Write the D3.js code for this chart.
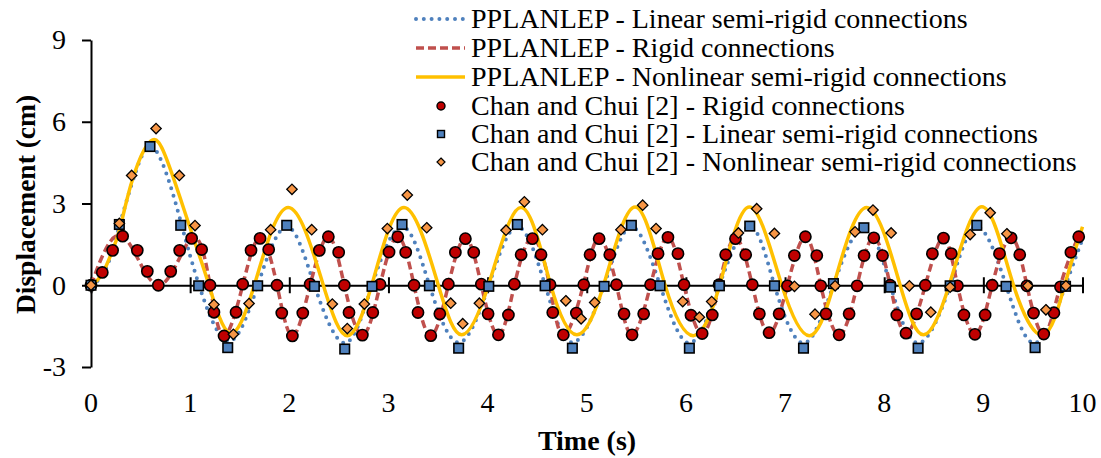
<!DOCTYPE html>
<html>
<head>
<meta charset="utf-8">
<script src="https://cdn.jsdelivr.net/npm/d3@7"></script>
<style>
  body { margin: 0; background: #fff; }
  svg { display: block; font-family: "Liberation Serif", "Times New Roman", serif; }
</style>
</head>
<body>
<svg id="chart" width="1101" height="458"></svg>
<script>
// tick values
const timeTicks = [0, 1, 2, 3, 4, 5, 6, 7, 8, 9, 10];
const dispTicks = [-3, 0, 3, 6, 9];

// PPLANLEP curves, [time s, displacement cm]
const linearLine = [[0,0],[0.15,0.6],[0.3,2.35],[0.45,4.15],[0.595,5.1],[0.75,4.2],[0.9,2.4],[1.09,0],[1.385,-2.05],
  [1.681,0],[1.974,2.15],[2.253,0],[2.559,-2.12],[2.834,0],[3.137,2.15],[3.413,0],[3.708,-2.1],[4.012,0],[4.30,2.15],
  [4.58,0],[4.855,-2.1],[5.175,0],[5.45,2.15],[5.739,0],[6.035,-2.12],[6.338,0],[6.644,2.15],[6.893,0],[7.186,-2.12],
  [7.488,0],[7.795,2.12],[8.063,0],[8.342,-2.12],[8.665,0],[8.934,2.15],[9.229,0],[9.522,-2.12],[9.829,0],[10,1.7]];

const rigidLine = [[0,0],[0.32,1.8],[0.68,0],[1.015,1.73],[1.2,0],[1.342,-1.86],[1.53,0],[1.705,1.74],[1.876,0],
  [2.031,-1.86],[2.21,0],[2.394,1.78],[2.555,0],[2.737,-1.84],[2.915,0],[3.094,1.78],[3.258,0],[3.427,-1.85],[3.604,0],
  [3.776,1.73],[3.937,0],[4.109,-1.83],[4.27,0],[4.452,1.73],[4.625,0],[4.764,-1.83],[4.965,0],[5.125,1.73],[5.3,0],
  [5.457,-1.82],[5.643,0],[5.819,1.76],[5.981,0],[6.164,-1.78],[6.334,0],[6.5,1.73],[6.67,0],[6.839,-1.76],[7.024,0],
  [7.205,1.78],[7.36,0],[7.545,-1.82],[7.727,0],[7.895,1.75],[8.06,0],[8.22,-1.77],[8.415,0],[8.598,1.74],[8.739,0],
  [8.915,-1.8],[9.089,0],[9.28,1.75],[9.439,0],[9.609,-1.8],[9.778,0],[9.962,1.78],[10,1.72]];

const nonlinearLine = [[0,0],[0.11,0.4],[0.22,1.3],[0.3,2.2],[0.42,3.9],[0.605,5.3],[0.75,4.75],[0.9,3.2],[1.05,1.55],
  [1.19,0],[1.395,-1.75],[1.647,0],[1.99,2.85],[2.343,0],[2.585,-1.85],[2.831,0],[3.157,2.85],[3.503,0],[3.739,-1.82],
  [4.008,0],[4.337,2.85],[4.637,0],[4.9,-1.82],[5.17,0],[5.487,2.87],[5.79,0],[6.075,-1.85],[6.34,0],[6.64,2.87],
  [6.967,0],[7.245,-1.85],[7.49,0],[7.825,2.85],[8.161,0],[8.396,-1.82],[8.655,0],[8.985,2.88],[9.304,0],[9.607,-1.82],
  [9.82,0],[10,2.15]];

// Chan and Chui [2] points
const chanRigid = [[0,0],[0.114,0.47],[0.218,1.28],[0.319,1.8],[0.467,1.28],[0.568,0.51],[0.679,0],[0.804,0.51],
  [0.894,1.28],[1.015,1.72],[1.116,1.31],[1.2,0],[1.24,-0.99],[1.342,-1.86],[1.463,-0.99],[1.53,0.04],[1.614,1.28],
  [1.705,1.72],[1.792,1.31],[1.876,0],[1.924,-1.02],[2.031,-1.86],[2.136,-1.02],[2.21,0.04],[2.303,1.28],[2.394,1.78],
  [2.498,1.21],[2.555,0],[2.602,-1.0],[2.737,-1.83],[2.842,-1.0],[2.915,0.03],[3.006,1.22],[3.094,1.78],[3.174,1.21],
  [3.258,0],[3.298,-1.0],[3.427,-1.85],[3.518,-1.05],[3.604,0.04],[3.675,1.21],[3.776,1.71],[3.86,1.21],[3.937,0.04],
  [4.005,-1.05],[4.109,-1.82],[4.21,-1.09],[4.27,0.04],[4.338,1.12],[4.452,1.71],[4.539,1.12],[4.63,0.02],[4.657,-1.0],
  [4.764,-1.82],[4.895,-1.02],[4.97,0.02],[5.033,1.12],[5.125,1.71],[5.232,1.12],[5.3,0.02],[5.376,-1.05],[5.457,-1.82],
  [5.574,-1.05],[5.643,0.02],[5.719,1.16],[5.819,1.76],[5.92,1.16],[5.981,0.02],[6.051,-1.1],[6.164,-1.77],[6.266,-1.09],
  [6.334,0.02],[6.401,1.12],[6.5,1.71],[6.603,1.12],[6.67,0.02],[6.741,-1.05],[6.839,-1.74],[6.94,-1.05],[7.024,-0.02],
  [7.094,1.09],[7.205,1.78],[7.32,1.09],[7.36,-0.02],[7.413,-1.05],[7.545,-1.82],[7.646,-1.05],[7.727,-0.02],[7.797,1.09],
  [7.895,1.74],[7.983,1.09],[8.06,0],[8.127,-1.09],[8.22,-1.76],[8.327,-1.05],[8.415,0],[8.486,1.16],[8.598,1.73],
  [8.676,1.16],[8.739,-0.02],[8.804,-1.09],[8.915,-1.8],[9.018,-1.09],[9.089,0],[9.163,1.16],[9.28,1.74],[9.367,1.12],
  [9.439,-0.02],[9.506,-1.02],[9.609,-1.79],[9.712,-1.01],[9.778,-0.06],[9.883,1.21],[9.962,1.78]];

const chanLinear = [[0,0],[0.286,2.23],[0.595,5.09],[0.905,2.2],[1.086,-0.02],[1.379,-2.29],[1.681,-0.02],[1.974,2.2],
  [2.253,-0.04],[2.559,-2.34],[2.834,-0.04],[3.137,2.23],[3.413,-0.02],[3.708,-2.31],[4.012,-0.04],[4.3,2.23],[4.58,-0.02],
  [4.855,-2.31],[5.175,-0.04],[5.45,2.2],[5.739,-0.02],[6.035,-2.31],[6.338,-0.02],[6.644,2.17],[6.893,-0.02],[7.186,-2.31],
  [7.488,0.06],[7.795,2.11],[8.063,-0.07],[8.342,-2.31],[8.665,-0.02],[8.934,2.2],[9.229,-0.04],[9.522,-2.29],[9.829,-0.04]];

const chanNonlinear = [[0,0],[0.286,2.27],[0.41,4.03],[0.656,5.75],[0.891,4.03],[1.049,2.19],[1.24,-0.71],[1.436,-1.8],
  [1.594,-0.67],[1.812,2.04],[2.027,3.52],[2.226,2.04],[2.434,-0.69],[2.585,-1.59],[2.757,-0.69],[2.989,2.08],[3.19,3.31],
  [3.386,2.11],[3.628,-0.66],[3.749,-1.41],[3.917,-0.66],[4.186,2.02],[4.371,3.06],[4.553,2.04],[4.789,-0.57],[4.943,-1.23],
  [5.08,-0.63],[5.345,2.04],[5.564,2.94],[5.699,2.08],[5.968,-0.6],[6.136,-1.17],[6.26,-0.6],[6.53,1.92],[6.714,2.81],
  [6.893,1.9],[7.095,-0.04],[7.302,-1.06],[7.505,-0.02],[7.706,1.96],[7.887,2.76],[8.07,1.92],[8.254,-0.02],[8.47,-0.99],
  [8.665,-0.07],[8.867,1.86],[9.069,2.66],[9.237,1.89],[9.449,-0.02],[9.631,-0.9],[9.833,-0.02]];

const legendLabels = [
  "PPLANLEP - Linear semi-rigid connections",
  "PPLANLEP - Rigid connections",
  "PPLANLEP - Nonlinear semi-rigid connections",
  "Chan and Chui [2] - Rigid connections",
  "Chan and Chui [2] - Linear semi-rigid connections",
  "Chan and Chui [2] - Nonlinear semi-rigid connections"
];

const svg = d3.select("#chart");

const x = d3.scaleLinear().domain([0, 10]).range([91, 1082.5]);
const y = d3.scaleLinear().domain([-3, 9]).range([367, 40]);

// y axis
const yAxis = svg.append("g").attr("transform", "translate(" + x(0) + ",0)")
  .call(d3.axisLeft(y).tickValues(dispTicks).tickFormat(d => String(d)).tickSize(9).tickSizeOuter(0));
yAxis.select(".domain").attr("stroke", "#000").attr("stroke-width", 2);
yAxis.selectAll(".tick line").attr("stroke", "#000").attr("stroke-width", 2);
yAxis.selectAll(".tick text").attr("x", -25).attr("font-size", 28)
  .attr("font-family", "Liberation Serif").attr("fill", "#000");

// x axis along zero line, ticks cross the line
const xAxis = svg.append("g").attr("transform", "translate(0," + y(0) + ")")
  .call(d3.axisBottom(x).tickValues(timeTicks).tickSize(0).tickSizeOuter(0));
xAxis.select(".domain").attr("stroke", "#000").attr("stroke-width", 2);
xAxis.selectAll(".tick line").attr("y1", -8).attr("y2", 8).attr("stroke", "#000").attr("stroke-width", 2);
xAxis.selectAll(".tick text").remove();

svg.append("g").selectAll("text").data(timeTicks).join("text")
  .attr("x", d => x(d)).attr("y", 412)
  .attr("text-anchor", "middle").attr("font-size", 28).text(d => d);

// axis titles
svg.append("text").attr("transform", "translate(35," + (y(3) + 1) + ") rotate(-90)")
  .attr("text-anchor", "middle").attr("font-size", 27.5).attr("font-weight", "bold")
  .text("Displacement (cm)");
svg.append("text").attr("x", 587).attr("y", 450)
  .attr("text-anchor", "middle").attr("font-size", 28).attr("font-weight", "bold")
  .text("Time (s)");

const line = d3.line().x(d => x(d[0])).y(d => y(d[1])).curve(d3.curveNatural);

const blue = "#4F81BD", red = "#C0504D", gold = "#FFC000";
const dotStyle = {stroke: blue, width: 4, dash: "0 7.8", cap: "round"};
const dashStyle = {stroke: red, width: 3.5, dash: "8 4", cap: "butt"};
const solidStyle = {stroke: gold, width: 3.5, dash: null, cap: "butt"};

function drawLine(data, st) {
  svg.append("path").datum(data).attr("d", line).attr("fill", "none")
    .attr("stroke", st.stroke).attr("stroke-width", st.width)
    .attr("stroke-dasharray", st.dash).attr("stroke-linecap", st.cap);
}
drawLine(linearLine, dotStyle);
drawLine(rigidLine, dashStyle);
drawLine(nonlinearLine, solidStyle);

function circles(g, data, r) {
  g.selectAll("circle").data(data).join("circle")
    .attr("cx", d => x(d[0])).attr("cy", d => y(d[1])).attr("r", r)
    .attr("fill", "#C00000").attr("stroke", "#000").attr("stroke-width", 1.6);
}
function squares(g, data, s) {
  g.selectAll("rect").data(data).join("rect")
    .attr("x", d => x(d[0]) - s / 2).attr("y", d => y(d[1]) - s / 2)
    .attr("width", s).attr("height", s)
    .attr("fill", blue).attr("stroke", "#000").attr("stroke-width", 1.6);
}
function diamonds(g, data, s) {
  g.selectAll("path").data(data).join("path")
    .attr("d", d => { const cx = x(d[0]), cy = y(d[1]);
      return "M" + cx + "," + (cy - s) + "L" + (cx + s) + "," + cy + "L" + cx + "," + (cy + s) + "L" + (cx - s) + "," + cy + "Z"; })
    .attr("fill", "#F79646").attr("stroke", "#000").attr("stroke-width", 1.3);
}
circles(svg.append("g"), chanRigid, 5.6);
squares(svg.append("g"), chanLinear, 9.5);
diamonds(svg.append("g"), chanNonlinear, 5.2);

// legend
const legY = [19, 48, 77, 106, 134, 162];
const leg = svg.append("g");
[dotStyle, dashStyle, solidStyle].forEach((st, i) => {
  leg.append("line").attr("x1", 416).attr("x2", 465).attr("y1", legY[i]).attr("y2", legY[i])
    .attr("stroke", st.stroke).attr("stroke-width", st.width)
    .attr("stroke-dasharray", st.dash).attr("stroke-linecap", st.cap);
});
leg.append("circle").attr("cx", 441).attr("cy", legY[3]).attr("r", 4)
  .attr("fill", "#C00000").attr("stroke", "#000").attr("stroke-width", 1.4);
leg.append("rect").attr("x", 437.5).attr("y", legY[4] - 3.5).attr("width", 7).attr("height", 7)
  .attr("fill", blue).attr("stroke", "#000").attr("stroke-width", 1.4);
leg.append("path").attr("d", "M441," + (legY[5] - 4) + "l4,4l-4,4l-4,-4z")
  .attr("fill", "#F79646").attr("stroke", "#000").attr("stroke-width", 1.2);
leg.selectAll("text").data(legendLabels).join("text")
  .attr("x", 471).attr("y", (d, i) => legY[i] + 9)
  .attr("font-size", 28).text(d => d);
</script>
</body>
</html>
